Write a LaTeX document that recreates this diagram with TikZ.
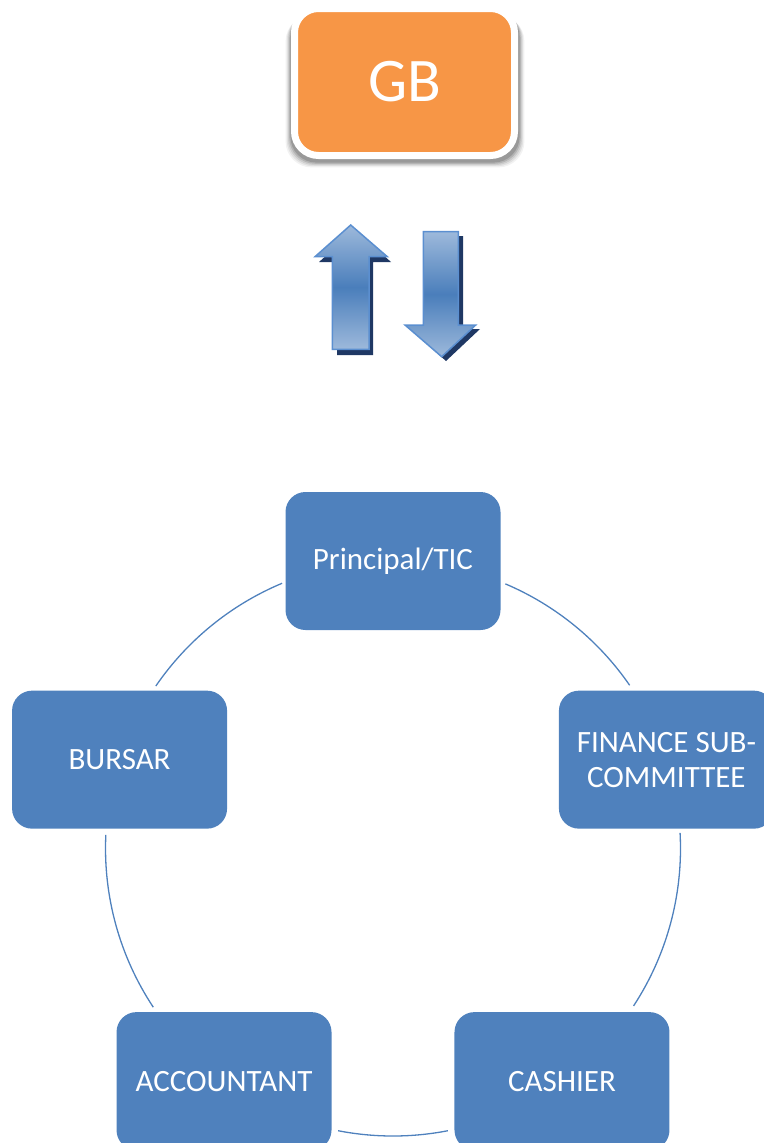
\documentclass[tikz,border=0pt]{standalone}
\usepackage{fontspec}
\setmainfont{Carlito}
\usetikzlibrary{calc}
\definecolor{boxblue}{HTML}{4F81BD}
\definecolor{gborange}{HTML}{F79646}
\definecolor{arrlight}{HTML}{9DB9DB}
\definecolor{arrmid}{HTML}{4A7EBB}
\definecolor{arrline}{HTML}{5B8FD0}
\definecolor{arrshadow}{HTML}{1F3864}
\tikzset{
  rolebox/.style={fill=boxblue, rounded corners=20pt, minimum width=215pt, minimum height=138pt,
    text=white, font=\fontsize{31}{35}\selectfont, align=center, inner sep=0pt},
  gbbox/.style={fill=gborange, draw=white, line width=7pt, rounded corners=24pt,
    minimum width=220pt, minimum height=147pt, text=white, font=\fontsize{62}{66}\selectfont},
  conn/.style={draw=boxblue, line width=1.3pt},
  arrbody/.style={top color=arrlight, bottom color=arrlight, middle color=arrmid, draw=arrline, line width=1.5pt, line join=miter},
  arrshade/.style={fill=arrshadow}
}
\begin{document}
\begin{tikzpicture}[x=1pt,y=1pt]
\useasboundingbox (0,0) rectangle (763,-1143);
% GB shadow (soft)
\foreach \k/\o in {9/0.05,7/0.07,5/0.09,3/0.12,1/0.15}{
  \fill[black, opacity=\o, rounded corners=26pt] (291-\k*0.6,-10-\k*0.6) rectangle (519+\k*0.6,-162-\k*0.6);
}
\node[gbbox] (gb) at (404.5,-82) {GB};
% up arrow
\fill[arrshade] (355,-230) -- (391,-262) -- (373,-262) -- (373,-355) -- (337,-355) -- (337,-262) -- (319,-262) -- cycle;
\path[arrbody] (350.7,-225) -- (387.3,-256.7) -- (369,-256.7) -- (369,-349.3) -- (332.3,-349.3) -- (332.3,-256.7) -- (315,-256.7) -- cycle;
% down arrow
\fill[arrshade] (428,-236) -- (463,-236) -- (463,-329) -- (480,-329) -- (446,-361) -- (410,-329) -- (428,-329) -- cycle;
\path[arrbody] (423.3,-231.7) -- (458.3,-231.7) -- (458.3,-325) -- (475.7,-325) -- (441.7,-356.7) -- (405,-325) -- (423.3,-325) -- cycle;
% circle of roles
\coordinate (c) at (393,-848.5);
\def\rr{287.5}
\node[rolebox] (pr) at ($(c)+(90:\rr)$) {Principal/TIC};
\node[rolebox] (fi) at ($(c)+(18:\rr)$) {FINANCE SUB-\\COMMITTEE};
\node[rolebox] (ca) at ($(c)+(-54:\rr)$) {CASHIER};
\node[rolebox] (ac) at ($(c)+(-126:\rr)$) {ACCOUNTANT};
\node[rolebox] (bu) at ($(c)+(162:\rr)$) {BURSAR};
\draw[conn] ($(c)+(67:\rr)$) arc[start angle=67, end angle=34.6, radius=\rr];
\draw[conn] ($(c)+(3.1:\rr)$) arc[start angle=3.1, end angle=-33.2, radius=\rr];
\draw[conn] ($(c)+(-79:\rr)$) arc[start angle=-79, end angle=-101, radius=\rr];
\draw[conn] ($(c)+(-146.5:\rr)$) arc[start angle=-146.5, end angle=-182.7, radius=\rr];
\draw[conn] ($(c)+(145.6:\rr)$) arc[start angle=145.6, end angle=112.7, radius=\rr];
\end{tikzpicture}
\end{document}
